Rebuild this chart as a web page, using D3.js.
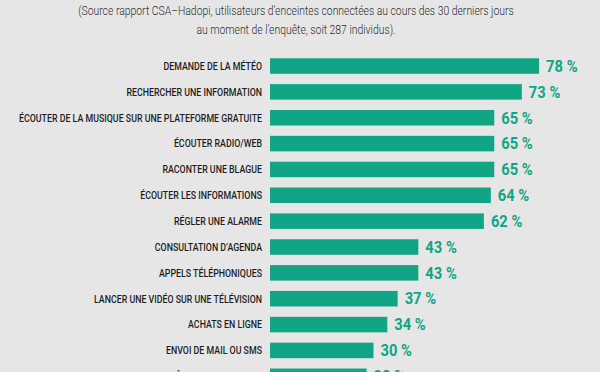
<!DOCTYPE html>
<html><head><meta charset="utf-8">
<script src="https://cdn.jsdelivr.net/npm/d3@7"></script>
<style>
html,body{margin:0;padding:0;background:#e6e6e6;}
svg{display:block;}
</style></head>
<body>
<svg id="c" width="600" height="372"></svg>
<script>
const subtitleLines = [
  "(Source rapport CSA\u2013Hadopi, utilisateurs d\u2019enceintes connect\u00e9es au cours des 30 derniers jours",
  "au moment de l\u2019enqu\u00eate, soit 287 individus)."
];
const categories = [
  "DEMANDE DE LA MÉTÉO",
  "RECHERCHER UNE INFORMATION",
  "ÉCOUTER DE LA MUSIQUE SUR UNE PLATEFORME GRATUITE",
  "ÉCOUTER RADIO/WEB",
  "RACONTER UNE BLAGUE",
  "ÉCOUTER LES INFORMATIONS",
  "RÉGLER UNE ALARME",
  "CONSULTATION D’AGENDA",
  "APPELS TÉLÉPHONIQUES",
  "LANCER UNE VIDÉO SUR UNE TÉLÉVISION",
  "ACHATS EN LIGNE",
  "ENVOI DE MAIL OU SMS",
  "CONTRÔLER LA DOMOTIQUE"
];
const values = [78, 73, 65, 65, 65, 64, 62, 43, 43, 37, 34, 30, 28];

const svg = d3.select("#c");
const W = 600, H = 372;
svg.append("rect").attr("width", W).attr("height", H).attr("fill", "#e6e6e6");

const data = categories.map((c, i) => ({cat: c, val: values[i]}));

const y = d3.scaleBand().domain(categories).range([53.1, 389.2]).paddingInner(0.4).paddingOuter(0.2);
const x = d3.scaleLinear().domain([0, 100]).range([270, 615]);

// subtitle
svg.selectAll("text.sub").data(subtitleLines).join("text")
  .attr("class", "sub")
  .attr("transform", (d, i) => `translate(296,${15 + i * 19}) scale(0.8,1)`)
  .attr("text-anchor", "middle")
  .attr("font-family", "Roboto, sans-serif")
  .attr("font-weight", 300)
  .attr("font-size", 13)
  .attr("fill", "#2e2e2e")
  .text(d => d);

// bars
svg.selectAll("rect.bar").data(data).join("rect")
  .attr("class", "bar")
  .attr("x", x(0))
  .attr("y", d => y(d.cat))
  .attr("width", d => x(d.val) - x(0))
  .attr("height", y.bandwidth())
  .attr("fill", "#10a585");

// category labels
svg.selectAll("text.lab").data(data).join("text")
  .attr("class", "lab")
  .attr("transform", d => `translate(262,${y(d.cat) + y.bandwidth() / 2}) scale(0.84,1)`)
  .attr("text-anchor", "end")
  .attr("dy", "0.36em")
  .attr("font-family", "Roboto, sans-serif")
  .attr("font-weight", 500)
  .attr("font-size", 10.5)
  .attr("fill", "#1e1e1e")
  .text(d => d.cat);

// value labels
svg.selectAll("text.val").data(data).join("text")
  .attr("class", "val")
  .attr("transform", d => `translate(${x(d.val) + 7},${y(d.cat) + y.bandwidth() / 2}) scale(0.92,1)`)
  .attr("text-anchor", "start")
  .attr("dy", "0.36em")
  .attr("font-family", "Roboto, sans-serif")
  .attr("font-weight", 700)
  .attr("font-size", 16)
  .attr("fill", "#10a585")
  .text(d => d.val + " %");
</script>
</body></html>
